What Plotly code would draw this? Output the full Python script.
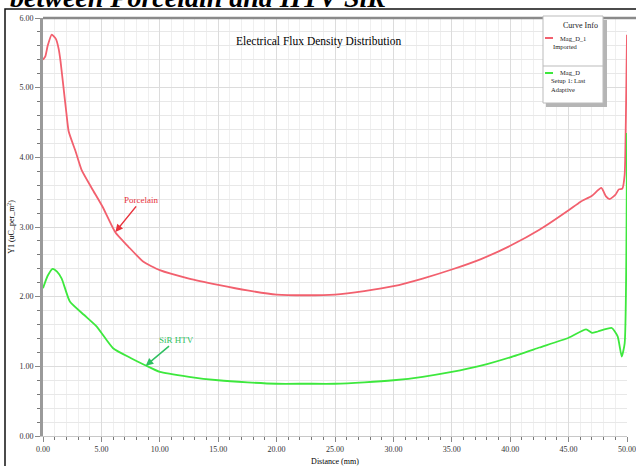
import plotly.graph_objects as go

# Porcelain (Mag_D_1 Imported)
porc_x = [0, 0.2, 0.4, 0.75, 1.1, 1.35, 1.5, 1.75, 2.0, 2.2, 2.8, 3.3, 4.2, 5.1, 6.2, 7.3, 8.6, 10, 12.5, 15,
          17.5, 20, 22.5, 25, 27.5, 30, 32.5, 35, 37.5, 40, 42.5, 45, 46, 47, 47.8, 48.2,
          48.5, 49.0, 49.3, 49.6, 49.8, 49.9, 50.0]
porc_y = [5.40, 5.45, 5.60, 5.76, 5.70, 5.55, 5.38, 5.01, 4.64, 4.37, 4.08, 3.82, 3.55, 3.29, 2.92, 2.72, 2.50, 2.38,
          2.26, 2.17, 2.09, 2.03, 2.02, 2.03, 2.08, 2.15, 2.26, 2.39, 2.54, 2.73, 2.96, 3.24,
          3.36, 3.45, 3.56, 3.44, 3.40, 3.46, 3.54, 3.55, 3.75, 4.50, 5.76]

# SiR HTV (Mag_D Setup 1: Last Adaptive)
sir_x = [0, 0.4, 0.83, 1.2, 1.6, 2.3, 3.5, 4.6, 6.0, 7.5, 8.7, 10, 12.5, 15, 17.5, 20, 22.5,
         25, 27.5, 30, 32.5, 35, 37.5, 40, 42.5, 45, 46.5, 47, 47.5, 48.7, 49.2, 49.55, 49.8, 50.0]
sir_y = [2.12, 2.30, 2.40, 2.36, 2.26, 1.93, 1.74, 1.57, 1.26, 1.12, 1.02, 0.92, 0.85, 0.80,
         0.77, 0.75, 0.75, 0.75, 0.77, 0.80, 0.85, 0.92, 1.01, 1.13, 1.27, 1.41, 1.53, 1.48,
         1.50, 1.55, 1.43, 1.14, 1.33, 4.35]

x_ticks = [0, 5, 10, 15, 20, 25, 30, 35, 40, 45, 50]
y_ticks = [0, 1, 2, 3, 4, 5, 6]

RED = "#f2606e"
GREEN = "#3de83d"
FONT = "Liberation Serif"

fig = go.Figure()
fig.add_trace(go.Scatter(x=porc_x, y=porc_y, mode="lines",
                         line=dict(color=RED, width=1.8, shape="spline", smoothing=0.5), showlegend=False))
fig.add_trace(go.Scatter(x=sir_x, y=sir_y, mode="lines",
                         line=dict(color=GREEN, width=1.8, shape="spline", smoothing=0.5), showlegend=False))

W, H = 636, 466
L, R, T, B = 43, 9, 18, 30
pw, ph = W - L - R, H - T - B


def px(xp):
    return (xp - L) / pw


def py(yp):
    return (H - B - yp) / ph


axis_common = dict(
    showgrid=True, gridcolor="#dcdcdc", gridwidth=1, automargin=False,
    zeroline=False, tickfont=dict(family=FONT, size=8, color="#333"),
    ticks="outside", tickcolor="#888", ticklen=5,
)

fig.update_xaxes(range=[0, 50], tickvals=x_ticks, tickformat=".2f",
                 showline=True, linecolor="#c8c8c8", linewidth=1,
                 title=dict(text="Distance (mm)", font=dict(family=FONT, size=8, color="#000"), standoff=6),
                 minor=dict(dtick=1, showgrid=True, gridcolor="#efefef",
                            ticks="outside", ticklen=3, tickcolor="#777"),
                 **axis_common)
fig.update_yaxes(range=[0, 6], tickvals=y_ticks, tickformat=".2f",
                 showline=True, linecolor="#9a9a9a", linewidth=3,
                 title=dict(text="Y1 (uC_per_m<sup>2</sup>)", font=dict(family=FONT, size=8, color="#000"), standoff=4),
                 minor=dict(dtick=0.2, showgrid=True, gridcolor="#e8e8e8",
                            ticks="outside", ticklen=3, tickcolor="#777"),
                 **axis_common)

shapes = []
# outer frame
shapes.append(dict(type="rect", xref="paper", yref="paper", x0=px(5), x1=px(640), y0=py(9), y1=py(470),
                   line=dict(color="#111", width=1.5), fillcolor="rgba(0,0,0,0)", layer="above"))
# top thick line
shapes.append(dict(type="line", xref="paper", yref="paper", x0=px(43), x1=px(636), y0=py(18), y1=py(18),
                   line=dict(color="#8a8a8a", width=2.5), layer="above"))
# legend shadow and box
shapes.append(dict(type="rect", xref="paper", yref="paper", x0=px(546), x1=px(607), y0=py(20), y1=py(107),
                   line=dict(width=0), fillcolor="#b5b5b5", layer="above"))
shapes.append(dict(type="rect", xref="paper", yref="paper", x0=px(543), x1=px(603), y0=py(16), y1=py(103),
                   line=dict(color="#bbbbbb", width=1), fillcolor="white", layer="above"))
shapes.append(dict(type="line", xref="paper", yref="paper", x0=px(543), x1=px(603), y0=py(66), y1=py(66),
                   line=dict(color="#bbbbbb", width=1), layer="above"))
shapes.append(dict(type="line", xref="paper", yref="paper", x0=px(545), x1=px(553), y0=py(38), y1=py(38),
                   line=dict(color=RED, width=2), layer="above"))
shapes.append(dict(type="line", xref="paper", yref="paper", x0=px(545), x1=px(553), y0=py(73), y1=py(73),
                   line=dict(color=GREEN, width=2), layer="above"))

ann = []


def txt(x, y, s, size=6.5, xanchor="left", color="#222"):
    ann.append(dict(x=px(x), y=py(y), xref="paper", yref="paper", text=s, showarrow=False,
                    xanchor=xanchor, yanchor="middle", font=dict(family=FONT, size=size, color=color)))


txt(580, 26, "Curve Info", size=8, xanchor="center")
txt(558, 38, "Mag_D_1")
txt(551, 46, "Imported")
txt(558, 73, "Mag_D")
txt(549, 81, "Setup 1: Last")
txt(549, 89, "Adaptive")

# chart title
ann.append(dict(x=px(318), y=py(41), xref="paper", yref="paper", text="Electrical Flux Density Distribution",
                showarrow=False, xanchor="center", yanchor="middle",
                font=dict(family=FONT, size=11.5, color="#000")))
# cut-off document heading
ann.append(dict(x=px(388), y=py(15), xref="paper", yref="paper",
                text="<b><i>between Porcelain and HTV SiR</i></b>",
                showarrow=False, xanchor="right", yanchor="bottom",
                font=dict(family=FONT, size=28, color="#000")))
# curve labels with arrows
ann.append(dict(x=6.2, y=2.93, xref="x", yref="y", text="Porcelain", showarrow=True,
                ax=26, ay=-32, arrowhead=2, arrowsize=1, arrowwidth=1.5, arrowcolor="#e8323c",
                font=dict(family=FONT, size=9, color="#e8323c")))
ann.append(dict(x=8.8, y=1.01, xref="x", yref="y", text="SiR HTV", showarrow=True,
                ax=31, ay=-26, arrowhead=2, arrowsize=1, arrowwidth=1.5, arrowcolor="#2fbf60",
                font=dict(family=FONT, size=9, color="#2fbf60")))

fig.update_layout(width=W, height=H, margin=dict(l=L, r=R, t=T, b=B),
                  paper_bgcolor="white", plot_bgcolor="white",
                  shapes=shapes, annotations=ann, showlegend=False)

fig.write_html("out.html")
